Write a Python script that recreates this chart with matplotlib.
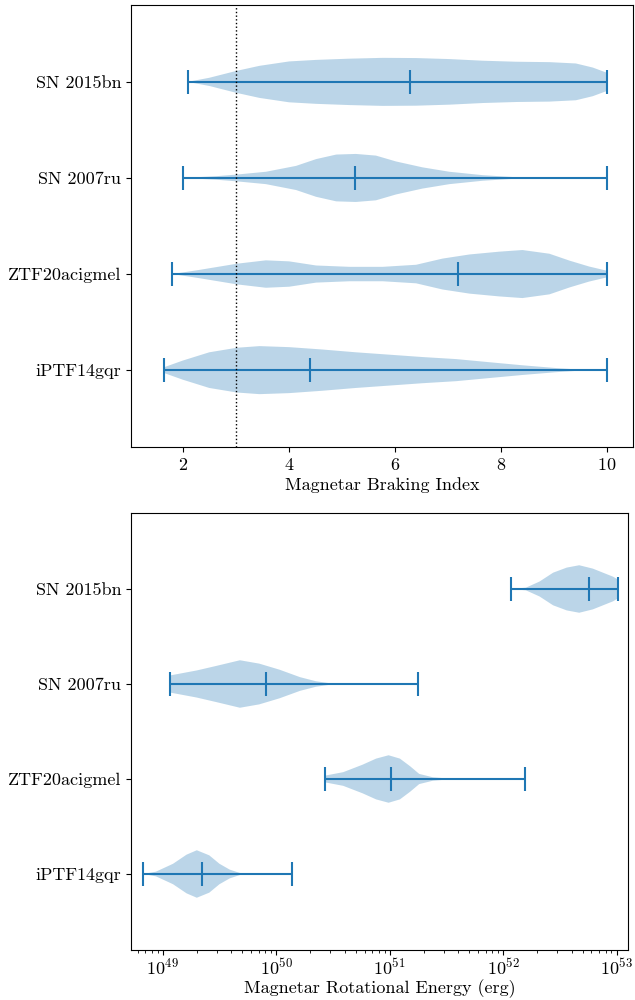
import numpy as np
import matplotlib
matplotlib.use("Agg")
import matplotlib.pyplot as plt

plt.rcParams["font.family"] = ["cmr10", "DejaVu Serif"]
plt.rcParams["mathtext.fontset"] = "cm"
plt.rcParams["axes.formatter.use_mathtext"] = True

# objects, bottom to top
names = ["iPTF14gqr", "ZTF20acigmel", "SN 2007ru", "SN 2015bn"]

# braking index: grid of n values, relative density profile, median
n_iptf = [1.63, 1.99, 2.49, 3.01, 3.44, 4.0, 4.63, 5.26, 5.89, 6.52,
          7.16, 7.78, 8.41, 9.05, 9.55, 10.0]
d_iptf = [2.7, 9.3, 17.3, 21.7, 23.3, 22.3, 20.0, 17.3, 15.0, 12.7,
          10.7, 7.7, 4.7, 2.0, 0.3, 0.0]
n_ztf = [1.79, 2.30, 3.01, 3.56, 4.0, 4.51, 5.14, 5.77, 6.40, 6.90,
         7.41, 7.97, 8.41, 8.92, 9.30, 9.67, 10.0]
d_ztf = [0.0, 4.0, 10.0, 13.3, 12.3, 8.3, 7.0, 7.0, 9.0, 15.0,
         19.0, 21.7, 23.3, 19.7, 13.0, 7.3, 3.3]
n_07ru = [1.99, 2.62, 3.01, 3.56, 4.13, 4.51, 4.89, 5.26, 5.64, 6.02,
          6.52, 7.03, 7.66, 8.29, 10.0]
d_07ru = [0.0, 1.7, 3.3, 6.0, 11.7, 18.3, 22.7, 23.3, 21.7, 16.0,
          10.3, 6.0, 2.7, 0.7, 0.0]
n_15bn = [2.08, 2.49, 3.0, 3.44, 4.0, 4.51, 5.14, 5.77, 6.40, 7.03,
          7.66, 8.29, 8.92, 9.42, 9.74, 10.0]
d_15bn = [0.0, 4.0, 10.7, 15.7, 20.0, 21.5, 22.7, 23.5, 23.3, 22.3,
          20.7, 19.7, 19.3, 18.0, 14.0, 9.0]
n_median = [4.39, 7.20, 5.25, 6.29]

# rotational energy: log10(E / erg) grid, relative density profile, median
e_iptf = [48.83, 48.94, 49.09, 49.21, 49.30, 49.41, 49.50, 49.59, 49.68, 50.14]
w_iptf = [0.0, 2.3, 10.0, 19.0, 23.3, 18.3, 10.0, 4.3, 1.0, 0.0]
e_ztf = [50.43, 50.59, 50.76, 50.88, 50.99, 51.09, 51.18, 51.26, 51.38,
         51.53, 52.19]
w_ztf = [3.3, 6.7, 14.0, 20.0, 23.3, 20.0, 12.5, 5.0, 1.7, 0.3, 0.0]
e_07ru = [49.06, 49.30, 49.47, 49.68, 49.85, 50.03, 50.21, 50.35, 50.50, 51.25]
w_07ru = [8.3, 13.3, 17.7, 23.3, 20.0, 14.0, 6.7, 2.7, 0.3, 0.0]
e_15bn = [52.07, 52.20, 52.32, 52.44, 52.56, 52.67, 52.79, 52.88, 52.97, 53.01]
w_15bn = [0.0, 1.3, 7.3, 16.0, 21.0, 23.3, 20.0, 16.0, 12.0, 9.3]
e_median = [49.35, 51.01, 49.91, 52.76]

positions = [1, 2, 3, 4]


def make_stats(grids, dens, medians, scale=lambda v: v):
    stats = []
    for g, d, m in zip(grids, dens, medians):
        c = scale(np.asarray(g, dtype=float))
        stats.append({
            "coords": c,
            "vals": np.asarray(d, dtype=float),
            "mean": np.nan,
            "median": scale(m),
            "min": c[0],
            "max": c[-1],
        })
    return stats


fig = plt.figure(figsize=(6.35, 10), dpi=100)
ax1 = fig.add_axes([0.2063, 0.553, 0.7906, 0.442])
ax2 = fig.add_axes([0.2063, 0.050, 0.7827, 0.437])

stats_n = make_stats([n_iptf, n_ztf, n_07ru, n_15bn],
                     [d_iptf, d_ztf, d_07ru, d_15bn], n_median)
ax1.violin(stats_n, positions=positions, orientation="horizontal",
           widths=0.5, showmeans=False, showextrema=True, showmedians=True)
ax1.axvline(3, color="black", linestyle=":", linewidth=1)
ax1.set_xlim(1.01, 10.5)
ax1.set_ylim(0.2, 4.8)
ax1.set_yticks(positions)
ax1.set_yticklabels(names)
ax1.set_xticks([2, 4, 6, 8, 10])
ax1.set_xlabel("Magnetar Braking Index", fontsize=13, labelpad=3)
ax1.tick_params(labelsize=13)

stats_e = make_stats([e_iptf, e_ztf, e_07ru, e_15bn],
                     [w_iptf, w_ztf, w_07ru, w_15bn], e_median,
                     scale=lambda v: 10.0 ** v)
ax2.set_xscale("log")
ax2.violin(stats_e, positions=positions, orientation="horizontal",
           widths=0.5, showmeans=False, showextrema=True, showmedians=True)
ax2.set_xlim(10 ** 48.72, 10 ** 53.1)
ax2.set_ylim(0.2, 4.8)
ax2.set_yticks(positions)
ax2.set_yticklabels(names)
ax2.set_xlabel("Magnetar Rotational Energy (erg)", fontsize=13, labelpad=1)
ax2.tick_params(labelsize=13)
ax2.tick_params(axis="x", which="both", pad=1.5)

fig.savefig("out.png", dpi=100)
